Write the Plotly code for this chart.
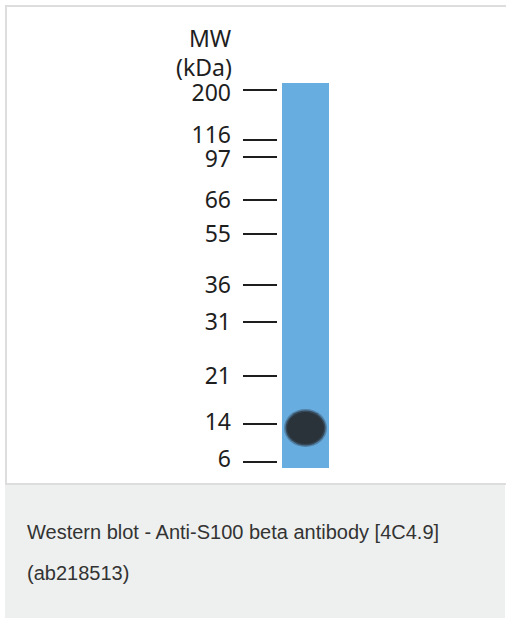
import plotly.graph_objects as go

# ---- data ----
ladder_kda = ["200", "116", "97", "66", "55", "36", "31", "21", "14", "6"]
ladder_migration = [90, 140, 157, 200, 234, 285, 322, 376, 424, 462]   # migration distance (px from top)
label_nudge = [5, -3, 4, 2, 2, 2, 2, 2, 0, -1]                          # label offset vs. tick
band_kda_label = "14"
band_migration = 428
lane_top, lane_bottom = 83, 468
caption_line1 = "Western blot - Anti-S100 beta antibody [4C4.9]"
caption_line2 = "(ab218513)"

W, H = 506, 619
fig = go.Figure()

# ladder tick marks
for m in ladder_migration:
    fig.add_trace(go.Scatter(x=[243, 277], y=[m, m], mode="lines",
                             line=dict(color="#1e1e1e", width=2.2),
                             hoverinfo="skip", showlegend=False))

# ladder labels
fig.add_trace(go.Scatter(x=[231] * len(ladder_kda),
                         y=[m + d for m, d in zip(ladder_migration, label_nudge)],
                         mode="text", text=ladder_kda, textposition="middle left",
                         textfont=dict(family="Noto Sans", size=23, color="#1e1e1e"),
                         hoverinfo="skip", showlegend=False))

shapes = [
    # white panel frame
    dict(type="rect", xref="x", yref="y", x0=6, x1=530, y0=6, y1=484,
         line=dict(color="#dddddd", width=2), fillcolor="white", layer="below"),
    # caption area
    dict(type="rect", xref="x", yref="y", x0=5, x1=505, y0=485, y1=618,
         line=dict(width=0), fillcolor="#eef0ef", layer="below"),
    # lane
    dict(type="rect", xref="x", yref="y", x0=282, x1=329, y0=lane_top, y1=lane_bottom,
         line=dict(width=0), fillcolor="#68ade0", layer="below"),
]
# band (layered ellipses to mimic a soft edge)
layers = [(0, 0, 0.35), (1.5, 1.5, 0.7), (3, 3, 1.0)]
for dx, dy, op in layers:
    shapes.append(dict(type="circle", xref="x", yref="y",
                       x0=284 + dx, x1=327 - dx,
                       y0=band_migration - 19 + dy, y1=band_migration + 19 - dy,
                       line=dict(width=0), fillcolor="#2a323a", opacity=op, layer="below"))

annotations = [
    dict(x=210, y=38, text="MW", showarrow=False, xref="x", yref="y",
         font=dict(family="Noto Sans", size=23, color="#1e1e1e")),
    dict(x=204, y=67, text="(kDa)", showarrow=False, xref="x", yref="y",
         font=dict(family="Noto Sans", size=23, color="#1e1e1e")),
    dict(x=25, y=532, text=caption_line1, showarrow=False, xref="x", yref="y",
         xanchor="left", font=dict(family="Liberation Sans", size=20, color="#333333")),
    dict(x=25, y=573, text=caption_line2, showarrow=False, xref="x", yref="y",
         xanchor="left", font=dict(family="Liberation Sans", size=20, color="#333333")),
]

fig.update_layout(
    width=W, height=H, margin=dict(l=0, r=0, t=0, b=0),
    paper_bgcolor="white", plot_bgcolor="white",
    shapes=shapes, annotations=annotations,
    xaxis=dict(range=[0, W], visible=False, fixedrange=True),
    yaxis=dict(range=[H, 0], visible=False, fixedrange=True),
    showlegend=False,
)
fig.write_html("out.html", config={"displayModeBar": False},
               post_script="document.body.style.margin='0';document.body.style.padding='0';")
